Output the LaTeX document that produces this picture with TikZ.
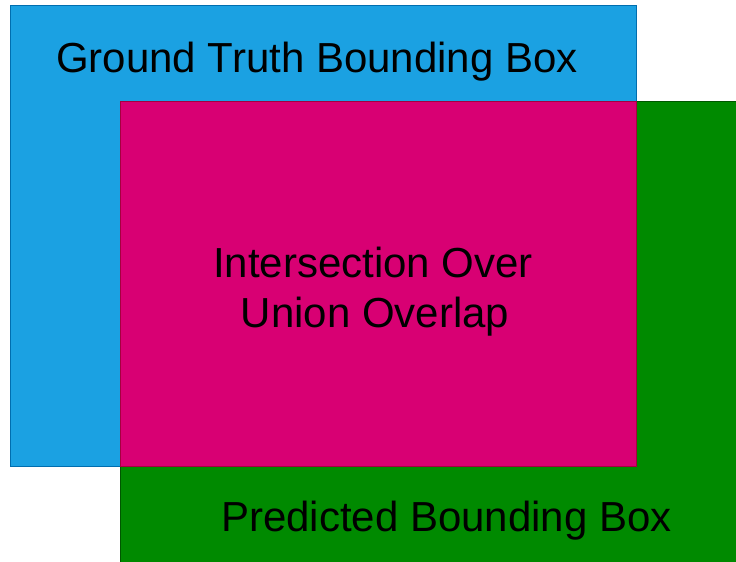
\documentclass[tikz,border=0pt]{standalone}
\usepackage{fontspec}
\setmainfont{Liberation Sans}
\definecolor{gtblue}{RGB}{27,161,226}
\definecolor{gtstroke}{RGB}{0,110,175}
\definecolor{prgreen}{RGB}{0,138,0}
\definecolor{prstroke}{RGB}{0,87,0}
\definecolor{iomag}{RGB}{216,0,115}
\definecolor{iostroke}{RGB}{165,0,64}
\begin{document}
\begin{tikzpicture}[x=1pt,y=1pt,
  boxshape/.style={rectangle,anchor=south west,inner sep=0pt,outer sep=0pt,line width=1pt},
  label/.style={font=\fontsize{42}{50}\selectfont,text=black,inner sep=0pt}]
\useasboundingbox (0,0) rectangle (736,562);
\fill[white] (0,0) rectangle (736,562);
\node[boxshape,fill=gtblue,draw=gtstroke,minimum width=626pt,minimum height=461pt] (gt) at (10,95) {};
\node[boxshape,fill=prgreen,draw=prstroke,minimum width=630pt,minimum height=470pt] (pr) at (120,-10) {};
\node[boxshape,fill=iomag,draw=iostroke,minimum width=516pt,minimum height=365pt] (io) at (120,95) {};
\node[label,anchor=base west] (gtl) at (56,489) {Ground Truth Bounding Box};
\node[label,anchor=base] (iol1) at (373,284) {Intersection Over};
\node[label,anchor=base] (iol2) at (375,234) {Union Overlap};
\node[label,anchor=base west] (prl) at (221,30) {Predicted Bounding Box};
\end{tikzpicture}
\end{document}
